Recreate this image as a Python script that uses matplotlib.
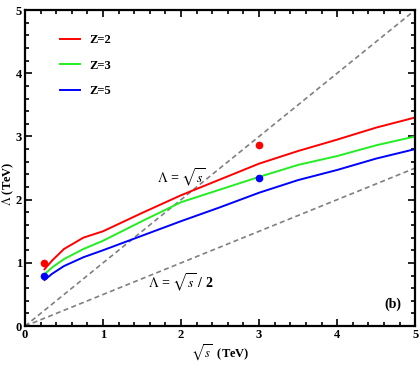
import numpy as np
import matplotlib
matplotlib.use("Agg")
import matplotlib.pyplot as plt

plt.rcParams['font.family'] = 'Liberation Serif'
plt.rcParams['mathtext.fontset'] = 'stix'

# curves
sqrt_s = [0.25, 0.35, 0.5, 0.75, 1.0, 1.5, 2.0, 2.5, 3.0, 3.5, 4.0, 4.5, 5.0]
lam_z2 = [0.90, 1.04, 1.22, 1.40, 1.50, 1.79, 2.07, 2.32, 2.57, 2.77, 2.95, 3.14, 3.30]
lam_z3 = [0.82, 0.93, 1.06, 1.22, 1.35, 1.66, 1.96, 2.16, 2.36, 2.55, 2.69, 2.86, 3.00]
lam_z5 = [0.73, 0.83, 0.95, 1.09, 1.20, 1.43, 1.66, 1.88, 2.11, 2.31, 2.47, 2.65, 2.80]

# single points
pts_x = [0.25, 3.0]
pts_red = [1.0, 2.86]
pts_blue = [0.8, 2.34]

diag = np.array([0, 5])

fig = plt.figure(figsize=(4.2, 3.71), dpi=100)
ax = fig.add_axes([0.0595, 0.121, 0.929, 0.852])

ax.plot(diag, diag, color='gray', ls='--', lw=1.2, dashes=(3, 2))
ax.plot(diag, diag / 2, color='gray', ls='--', lw=1.2, dashes=(3, 2))

ax.plot(sqrt_s, lam_z2, color='red', lw=1.4, label='Z=2')
ax.plot(sqrt_s, lam_z3, color='#22ee22', lw=1.4, label='Z=3')
ax.plot(sqrt_s, lam_z5, color='blue', lw=1.4, label='Z=5')

ax.plot(pts_x, pts_red, 'o', color='red', ms=4.5)
ax.plot(pts_x, pts_blue, 'o', color='blue', ms=4.5)

ax.text(2.0, 2.35, r'$\Lambda$ = $\sqrt{s}$', ha='center', va='center', fontsize=10, fontweight='bold')
ax.text(2.0, 0.68, r'$\Lambda$ = $\sqrt{s}$ / 2', ha='center', va='center', fontsize=10, fontweight='bold')
ax.text(4.72, 0.35, '(b)', ha='center', va='center', fontsize=10, fontweight='bold')

ax.set_xlim(0, 5)
ax.set_ylim(0, 5)
ax.set_xticks(np.arange(0, 6, 1))
ax.set_yticks(np.arange(0, 6, 1))
ax.set_xticks(np.arange(0, 5.01, 0.2), minor=True)
ax.set_yticks(np.arange(0, 5.01, 0.2), minor=True)
ax.tick_params(which='both', direction='in', top=True, right=True, width=1.2)
ax.tick_params(which='major', length=5, labelsize=9, pad=2)
ax.tick_params(which='minor', length=3)
for lbl in ax.get_xticklabels() + ax.get_yticklabels():
    lbl.set_fontweight('bold')
for sp in ax.spines.values():
    sp.set_linewidth(1.6)

ax.set_xlabel(r'$\sqrt{s}$  (TeV)', fontsize=9, fontweight='bold', va='center')
ax.set_ylabel(r'$\Lambda$ (TeV)', fontsize=9, fontweight='bold', va='center')
ax.xaxis.set_label_coords(0.5, -0.083)
ax.yaxis.set_label_coords(-0.044, 0.45)

leg = ax.legend(loc='upper left', bbox_to_anchor=(0.06, 0.96), frameon=False,
                handlelength=1.6, labelspacing=1.1, prop={'weight': 'bold', 'size': 9})

fig.savefig('out.png', dpi=100)
